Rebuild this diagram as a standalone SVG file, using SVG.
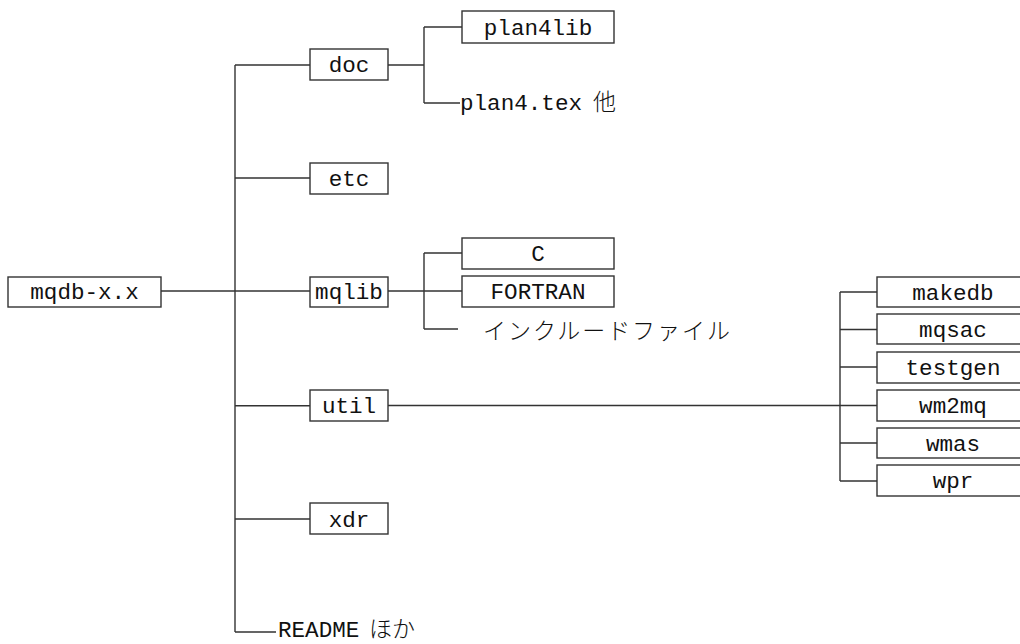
<svg xmlns="http://www.w3.org/2000/svg" width="1020" height="644" viewBox="0 0 1020 644">
<style>
.box{fill:#fff;stroke:#333;stroke-width:1.4}
.ln{fill:none;stroke:#333;stroke-width:1.4}
.t{font-family:"Liberation Mono","Noto Sans CJK JP",monospace;font-size:22.6px;fill:#111;text-anchor:middle}
.l{font-family:"Liberation Mono","Noto Sans CJK JP",monospace;font-size:22.6px;fill:#111}
.j{font-family:"Noto Sans CJK JP",sans-serif;font-weight:300;font-size:23px;fill:#111}
</style>
<rect width="1020" height="644" fill="#fff"/>
<g id="connectors">
<path class="ln" d="M161 291H310"/>
<path class="ln" d="M235 65V632"/>
<path class="ln" d="M235 65H310M235 178H310M235 405.7H310M235 519H310M235 632H276"/>
<path class="ln" d="M388 65H424M424 27V103M424 27H462M424 103H460"/>
<path class="ln" d="M388 291H462M424 253V329M424 253H462M424 329H458"/>
<path class="ln" d="M388 405.5H877M840 292V481M840 292H877M840 329.5H877M840 367H877M840 443H877M840 481H877"/>
</g>
<g id="mqdb"><rect class="box" x="8" y="277" width="153" height="30"/><text class="t" x="84.5" y="299">mqdb-x.x</text></g>
<g id="doc"><rect class="box" x="310" y="49" width="78" height="31"/><text class="t" x="349" y="72">doc</text></g>
<g id="etc"><rect class="box" x="310" y="163" width="78" height="31"/><text class="t" x="349" y="186">etc</text></g>
<g id="mqlib"><rect class="box" x="310" y="277" width="78" height="30"/><text class="t" x="349" y="299">mqlib</text></g>
<g id="util"><rect class="box" x="310" y="390" width="78" height="31"/><text class="t" x="349" y="413">util</text></g>
<g id="xdr"><rect class="box" x="310" y="503" width="78" height="31"/><text class="t" x="349" y="527">xdr</text></g>
<g id="readme"><text class="l" x="278" y="637">README</text><text class="j" x="369" y="637">ほか</text></g>
<g id="plan4lib"><rect class="box" x="462" y="11" width="152" height="32"/><text class="t" x="538" y="35">plan4lib</text></g>
<g id="plan4tex"><text class="l" x="460" y="110">plan4.tex</text><text class="j" x="593" y="110">他</text></g>
<g id="c"><rect class="box" x="462" y="238" width="152" height="31"/><text class="t" x="538" y="261">C</text></g>
<g id="fortran"><rect class="box" x="462" y="276" width="152" height="31"/><text class="t" x="538" y="299">FORTRAN</text></g>
<g id="include"><text class="j" x="483" y="339" textLength="247" lengthAdjust="spacing">インクルードファイル</text></g>
<g id="makedb"><rect class="box" x="877" y="277" width="152" height="30"/><text class="t" x="953" y="300">makedb</text></g>
<g id="mqsac"><rect class="box" x="877" y="314" width="152" height="30"/><text class="t" x="953" y="337">mqsac</text></g>
<g id="testgen"><rect class="box" x="877" y="352" width="152" height="31"/><text class="t" x="953" y="375">testgen</text></g>
<g id="wm2mq"><rect class="box" x="877" y="390" width="152" height="31"/><text class="t" x="953" y="413">wm2mq</text></g>
<g id="wmas"><rect class="box" x="877" y="428" width="152" height="30"/><text class="t" x="953" y="451">wmas</text></g>
<g id="wpr"><rect class="box" x="877" y="465" width="152" height="31"/><text class="t" x="953" y="488">wpr</text></g>
</svg>
